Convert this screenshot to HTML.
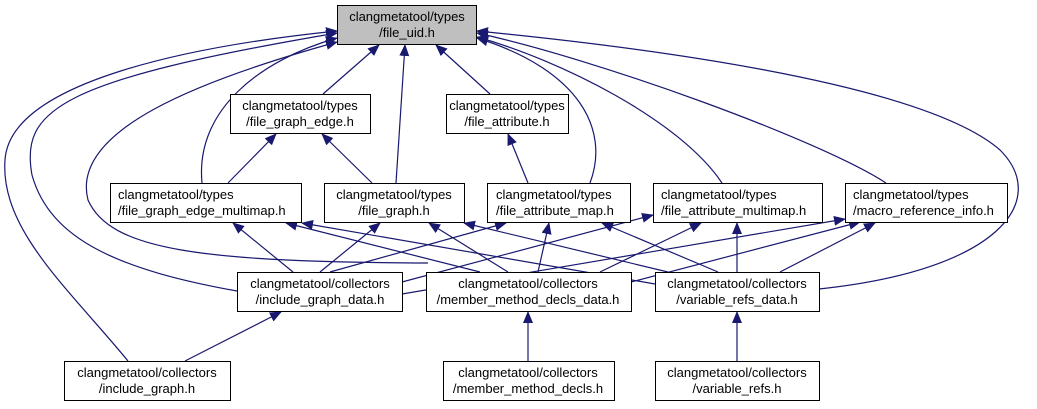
<!DOCTYPE html>
<html><head><meta charset="utf-8"><style>
html,body{margin:0;padding:0;background:#fff;width:1037px;height:409px;overflow:hidden}
svg text{font-family:"Liberation Sans",Helvetica,sans-serif;font-size:13px;fill:#000}
</style></head><body>
<svg width="1037" height="409" viewBox="0 0 1037 409" xmlns="http://www.w3.org/2000/svg">
<defs><marker id="a" markerWidth="12" markerHeight="10" refX="11" refY="5" orient="auto" markerUnits="userSpaceOnUse"><path d="M0,0 L12,5 L0,10 z" fill="#191970"/></marker></defs>
<g fill="none" stroke="#191970" stroke-width="1.2" marker-end="url(#a)">
<path d="M323,94 L379,45"/>
<path d="M490,94 L436,45"/>
<path d="M396,183 L405,45"/>
<path d="M202,183 C195,110 260,60 337,38"/>
<path d="M590,183 C610,130 580,70 477,38"/>
<path d="M722,183 C680,120 560,60 477,37"/>
<path d="M886,183 C820,140 600,60 477,33"/>
<path d="M819,289 C1000,270 1050,200 1000,150 C920,80 620,45 477,31"/>
<path d="M237,291 C120,270 50,240 32,175 C20,110 60,80 337,33"/>
<path d="M128,361 C70,290 0,230 5,160 C10,80 200,45 337,31"/>
<path d="M428,263 C200,262 110,250 88,200 C70,130 200,80 337,42"/>
<path d="M228,183 L276,134"/>
<path d="M372,183 L322,134"/>
<path d="M528,183 L508,134"/>
<path d="M293,272 L233,223"/>
<path d="M480,272 L286,223"/>
<path d="M655,284 L302,223"/>
<path d="M320,272 L380,223"/>
<path d="M508,272 L429,223"/>
<path d="M668,272 L464,223"/>
<path d="M330,272 L506,223"/>
<path d="M538,272 L549,223"/>
<path d="M718,272 L602,223"/>
<path d="M402,282 L653,215"/>
<path d="M600,272 L701,223"/>
<path d="M737,272 L737,223"/>
<path d="M402,294 L845,219"/>
<path d="M631,282 L860,222"/>
<path d="M780,272 L875,223"/>
<path d="M185,361 L281,312"/>
<path d="M528,361 L528,312"/>
<path d="M737,361 L737,312"/>
</g>
<g stroke="#000" stroke-width="1" fill="#fff">
<rect x="337.5" y="5.5" width="139" height="39" fill="#bfbfbf"/>
<rect x="230.5" y="94.5" width="140" height="39"/>
<rect x="446.5" y="94.5" width="122" height="39"/>
<rect x="110.5" y="183.5" width="191" height="39"/>
<rect x="324.5" y="183.5" width="140" height="39"/>
<rect x="487.5" y="183.5" width="143" height="39"/>
<rect x="653.5" y="183.5" width="169" height="39"/>
<rect x="845.5" y="183.5" width="162" height="39"/>
<rect x="237.5" y="272.5" width="165" height="39"/>
<rect x="426.5" y="272.5" width="205" height="39"/>
<rect x="655.5" y="272.5" width="164" height="39"/>
<rect x="64.5" y="361.5" width="166" height="39"/>
<rect x="443.5" y="361.5" width="171" height="39"/>
<rect x="655.5" y="361.5" width="164" height="39"/>
</g>
<g text-anchor="middle">
<text x="407" y="21">clangmetatool/types</text><text x="407" y="37">/file_uid.h</text>
<text x="300" y="110">clangmetatool/types</text><text x="300" y="126">/file_graph_edge.h</text>
<text x="507" y="110">clangmetatool/types</text><text x="507" y="126">/file_attribute.h</text>
<text x="394" y="199">clangmetatool/types</text><text x="394" y="215">/file_graph.h</text>
<text x="320" y="288">clangmetatool/collectors</text><text x="320" y="304">/include_graph_data.h</text>
<text x="528" y="288">clangmetatool/collectors</text><text x="528" y="304">/member_method_decls_data.h</text>
<text x="737" y="288">clangmetatool/collectors</text><text x="737" y="304">/variable_refs_data.h</text>
<text x="147" y="377">clangmetatool/collectors</text><text x="147" y="393">/include_graph.h</text>
<text x="528" y="377">clangmetatool/collectors</text><text x="528" y="393">/member_method_decls.h</text>
<text x="737" y="377">clangmetatool/collectors</text><text x="737" y="393">/variable_refs.h</text>
</g>
<g>
<text x="118" y="199">clangmetatool/types</text><text x="118" y="215">/file_graph_edge_multimap.h</text>
<text x="496" y="199">clangmetatool/types</text><text x="496" y="215">/file_attribute_map.h</text>
<text x="661" y="199">clangmetatool/types</text><text x="661" y="215">/file_attribute_multimap.h</text>
<text x="853" y="199">clangmetatool/types</text><text x="853" y="215">/macro_reference_info.h</text>
</g>
</svg>
</body></html>
